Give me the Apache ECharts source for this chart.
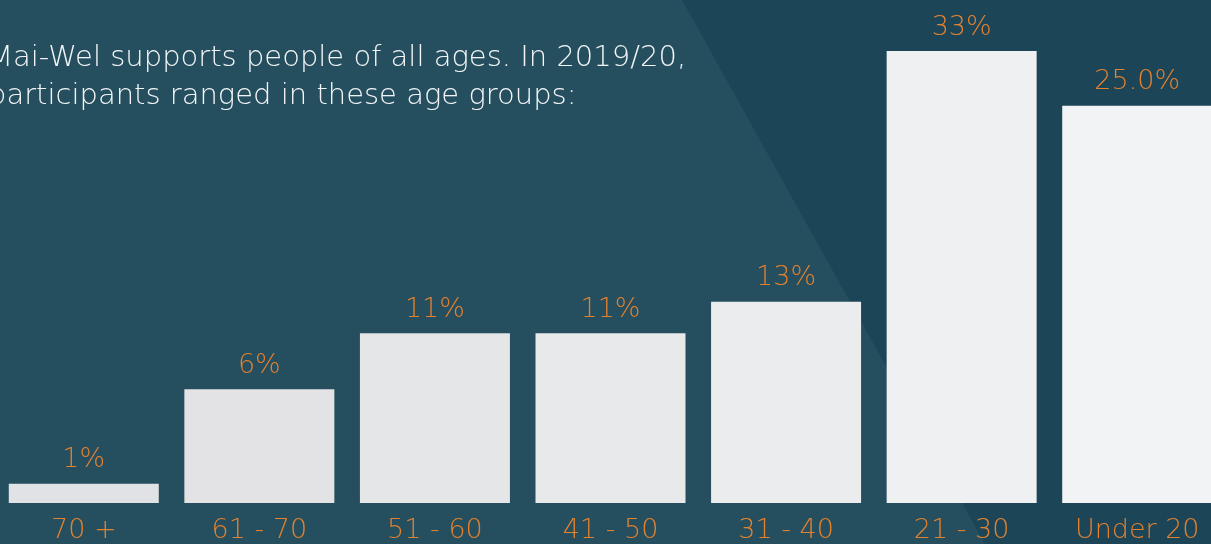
<!DOCTYPE html>
<html>
<head>
<meta charset="utf-8">
<script src="https://cdn.jsdelivr.net/npm/echarts@6/dist/echarts.min.js"></script>
<style>
  html, body { margin: 0; padding: 0; background: #254e5e; }
  #chart { width: 1211px; height: 544px; }
</style>
</head>
<body>
<div id="chart"></div>
<script>
// age groups, oldest first
var categories = ['70 +', '61 - 70', '51 - 60', '41 - 50', '31 - 40', '21 - 30', 'Under 20']
// bar heights (percent of participants)
var values = [1.4, 8.3, 12.4, 12.4, 14.7, 33, 29]
// the labels printed over the bars
var valueLabels = ['1%', '6%', '11%', '11%', '13%', '33%', '25.0%']
var barColors = ['#e1e2e5', '#e3e3e6', '#e5e6e8', '#e8e9eb', '#ebecee', '#eff0f2', '#f2f3f5']

var titleLines = ['Mai-Wel supports people of all ages. In 2019/20,', 'participants ranged in these age groups:']

var orange = '#e3812f'
var font = '"DejaVu Sans"'

var chart = echarts.init(document.getElementById('chart'))

chart.setOption({
  backgroundColor: '#254e5e',
  animation: false,
  graphic: [
    {
      type: 'polygon',
      z: -10,
      shape: { points: [[682, 0], [1211, 0], [1211, 544], [985, 544]] },
      style: { fill: '#1c4557' }
    },
    {
      type: 'text',
      left: -12,
      top: 39,
      style: {
        text: titleLines.join('\n'),
        fill: '#f2f5f7',
        font: '200 29px ' + font,
        lineHeight: 38
      }
    }
  ],
  grid: {
    left: -4,
    width: 1229,
    top: 51,
    bottom: 41,
    outerBoundsMode: 'none'
  },
  xAxis: {
    type: 'category',
    data: categories,
    axisLine: { show: false },
    axisTick: { show: false },
    axisLabel: {
      color: orange,
      fontSize: 27,
      fontFamily: font,
      fontWeight: 200,
      margin: 14,
      interval: 0
    }
  },
  yAxis: {
    type: 'value',
    min: 0,
    max: 33,
    show: false,
    splitLine: { show: false }
  },
  series: [
    {
      type: 'bar',
      barWidth: 150,
      data: values.map(function (v, i) {
        return { value: v, itemStyle: { color: barColors[i] } }
      }),
      label: {
        show: true,
        position: 'top',
        distance: 10,
        color: orange,
        fontSize: 27,
        fontFamily: font,
        fontWeight: 200,
        formatter: function (p) { return valueLabels[p.dataIndex] }
      }
    }
  ]
})
</script>
</body>
</html>
